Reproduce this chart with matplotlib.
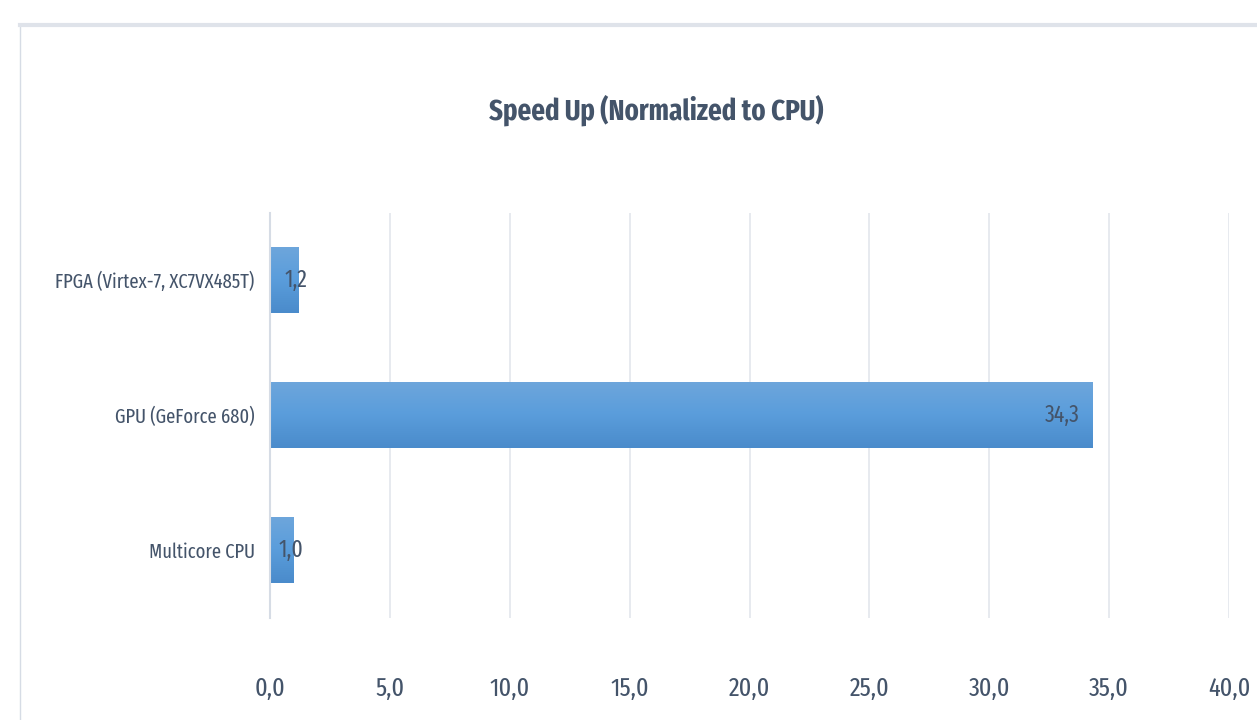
import numpy as np
import matplotlib
matplotlib.use("Agg")
import matplotlib.pyplot as plt
from matplotlib.patches import Rectangle
from matplotlib.colors import LinearSegmentedColormap

categories = ["Multicore CPU", "GPU (GeForce 680)", "FPGA (Virtex-7, XC7VX485T)"]
values = [1.0, 34.3, 1.2]
xticks = [0, 5, 10, 15, 20, 25, 30, 35, 40]
title = "Speed Up (Normalized to CPU)"

plt.rcParams['font.family'] = ['Fira Sans Extra Condensed', 'Barlow Condensed', 'DejaVu Sans']
txt = "#44546a"

fig = plt.figure(figsize=(12.57, 7.2), dpi=100)
fig.patch.set_facecolor("white")
# chart area border
fig.add_artist(Rectangle((20/1257, -0.1), 1.2, (720-25)/720 + 0.1, transform=fig.transFigure,
                         fill=False, edgecolor="#d6dce5", lw=1.0))
fig.add_artist(plt.Line2D([20/1257, 1.0], [1-25/720, 1-25/720], transform=fig.transFigure,
                          color="#dfe3ea", lw=3))

ax = fig.add_axes([270/1257, 1-617.5/720, (1229-270)/1257, (617.5-212.5)/720])
ypos = np.arange(len(categories))
h = 0.49
bars = ax.barh(ypos, values, height=h, color="#5b9bd5", zorder=2)

# vertical gradient on bars
grad = np.linspace(0, 1, 256).reshape(-1, 1)
cmap = LinearSegmentedColormap.from_list("g", ["#4a8bcb", "#5a9ddb", "#6ea6dc"])
for b in bars:
    x0, y0 = b.get_x(), b.get_y()
    w, hh = b.get_width(), b.get_height()
    im = ax.imshow(grad, extent=[x0, x0 + w, y0, y0 + hh], origin="lower", cmap=cmap,
                   aspect="auto", zorder=2.1)
    im.set_clip_path(b)
ax.set_xlim(0, 40)
ax.set_ylim(-0.5, 2.5)

for y, v in zip(ypos, values):
    lab = f"{v:.1f}".replace(".", ",")
    if v > 5:
        ax.annotate(lab, (v, y), xytext=(-9, 0), textcoords="offset points",
                    ha="right", va="center", fontsize=17, color=txt, zorder=4)
    else:
        ax.annotate(lab, (v, y), xytext=(-2, 0), textcoords="offset points",
                    ha="center", va="center", fontsize=17, color=txt, zorder=4)

ax.set_xticks(xticks)
ax.set_xticklabels([f"{t:.1f}".replace(".", ",") for t in xticks], fontsize=19, color=txt)
ax.set_yticks(ypos)
ax.set_yticklabels(categories, fontsize=14.5, color=txt)
ax.tick_params(axis="x", length=0, pad=42)
ax.tick_params(axis="y", length=0, pad=11)
ax.grid(axis="x", color="#e3e6ec", lw=1.2, zorder=0)
ax.set_axisbelow(True)
for s in ["top", "right", "bottom"]:
    ax.spines[s].set_visible(False)
ax.spines["left"].set_color("#d6dce5")
ax.spines["left"].set_linewidth(1.5)
ax.spines["left"].set_zorder(5)

fig.text(656/1257, 1-110/720, title, ha="center", va="center", fontsize=21,
         fontweight="bold", color=txt)

fig.savefig("out.png", dpi=100)
